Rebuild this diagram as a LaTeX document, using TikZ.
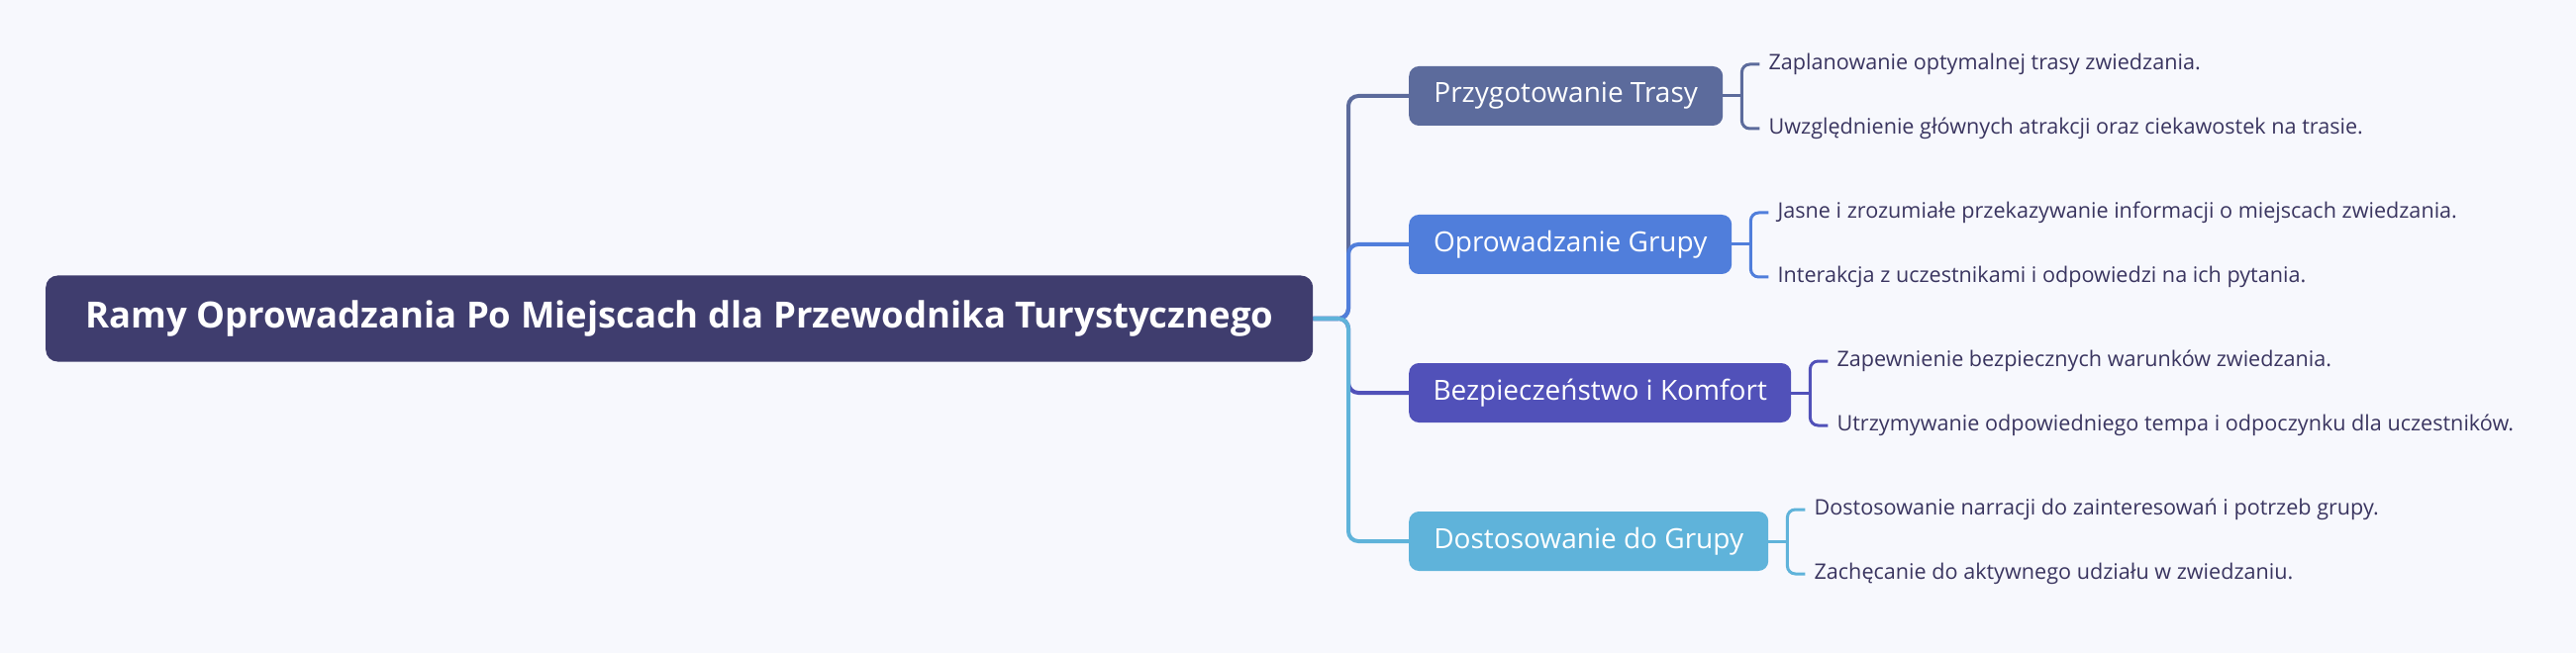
\documentclass[tikz,border=0pt]{standalone}
\usepackage{fontspec}
\setmainfont{Open Sans}
\definecolor{bgc}{HTML}{F7F8FD}
\definecolor{rootc}{HTML}{3F3D6E}
\definecolor{cA}{HTML}{5C6B9C}
\definecolor{cB}{HTML}{507EDB}
\definecolor{cC}{HTML}{5151B9}
\definecolor{cD}{HTML}{5FB3DA}
\definecolor{leafc}{HTML}{3A3560}
\begin{document}
\begin{tikzpicture}[x=1pt,y=-1pt,
    root/.style={anchor=west,fill=rootc,text=white,rounded corners=12pt,minimum height=87pt,
        minimum width=1280pt,font=\fontsize{36.5}{44}\selectfont\bfseries},
    branch/.style={anchor=west,text=white,rounded corners=10pt,minimum height=60pt,
        inner xsep=24pt,font=\fontsize{28}{33}\selectfont},
    leaf/.style={anchor=west,text=leafc,inner xsep=9pt,font=\fontsize{21.6}{26}\selectfont},
    trunk/.style={line width=4pt,rounded corners=10pt},
    twig/.style={line width=3pt,rounded corners=8pt}]
    \fill[bgc] (0,0) rectangle (2602,660);
    \node[root] (root) at (46,322) {Ramy Oprowadzania Po Miejscach dla Przewodnika Turystycznego};
    \coordinate (j) at (1362,322);
    \node[branch,fill=cA,minimum width=317pt] (b1) at (1423,97) {Przygotowanie Trasy};
    \node[branch,fill=cB,minimum width=326pt] (b2) at (1423,247) {Oprowadzanie Grupy};
    \node[branch,fill=cC,minimum width=386pt] (b3) at (1423,397) {Bezpieczeństwo i Komfort};
    \node[branch,fill=cD,minimum width=363pt] (b4) at (1423,547) {Dostosowanie do Grupy};
    \foreach \b/\c in {b1/cA,b2/cB,b3/cC,b4/cD}
        {\draw[trunk,\c] (root.east) -- (j) |- (\b.west);
        }
    % leaves
    \node[leaf] (l1a) at ([xshift=37pt,yshift=32pt]b1.east) {Zaplanowanie optymalnej trasy zwiedzania.};
    \node[leaf] (l1b) at ([xshift=37pt,yshift=-33pt]b1.east) {Uwzględnienie głównych atrakcji oraz ciekawostek na trasie.};
    \node[leaf] (l2a) at ([xshift=37pt,yshift=32pt]b2.east) {Jasne i zrozumiałe przekazywanie informacji o miejscach zwiedzania.};
    \node[leaf] (l2b) at ([xshift=37pt,yshift=-33pt]b2.east) {Interakcja z uczestnikami i odpowiedzi na ich pytania.};
    \node[leaf] (l3a) at ([xshift=37pt,yshift=32pt]b3.east) {Zapewnienie bezpiecznych warunków zwiedzania.};
    \node[leaf] (l3b) at ([xshift=37pt,yshift=-33pt]b3.east) {Utrzymywanie odpowiedniego tempa i odpoczynku dla uczestników.};
    \node[leaf] (l4a) at ([xshift=37pt,yshift=32pt]b4.east) {Dostosowanie narracji do zainteresowań i potrzeb grupy.};
    \node[leaf] (l4b) at ([xshift=37pt,yshift=-33pt]b4.east) {Zachęcanie do aktywnego udziału w zwiedzaniu.};
    \foreach \i/\c in {1/cA,2/cB,3/cC,4/cD}
        {\draw[twig,\c] (b\i.east) -- ([xshift=19pt]b\i.east);
         \draw[twig,\c] (l\i a.west) -| ([xshift=19pt]b\i.east) |- (l\i b.west);
        }
\end{tikzpicture}
\end{document}
